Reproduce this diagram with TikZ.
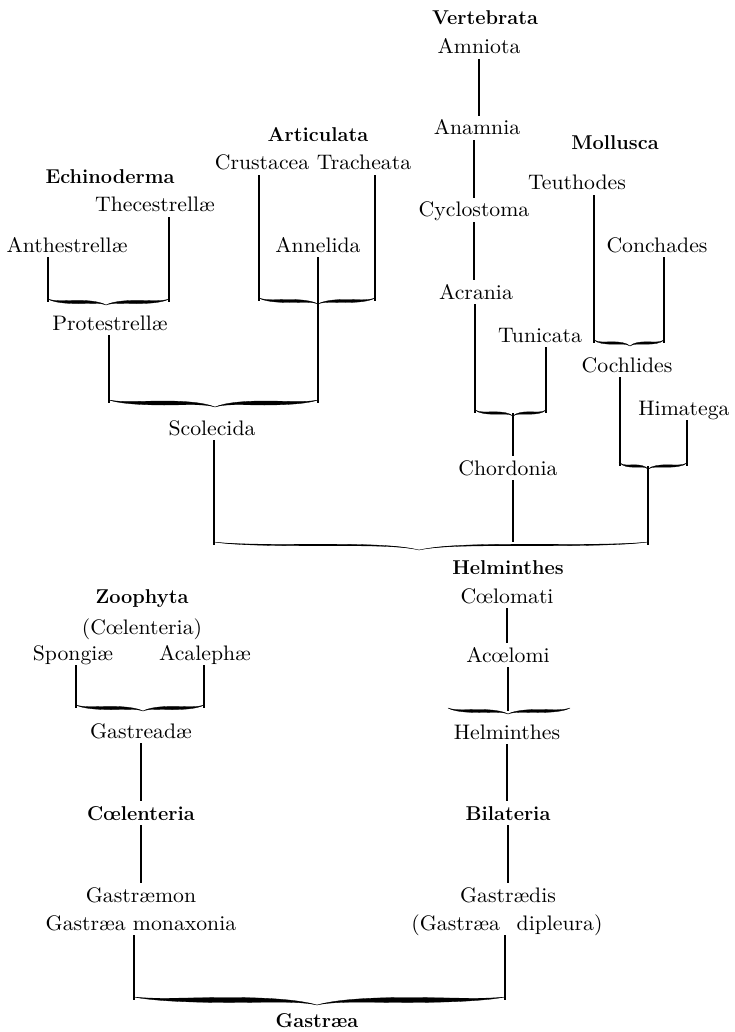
\documentclass[tikz,border=0pt]{standalone}
\usepackage{fontspec}
\newfontfamily\labfont{lmroman10}[Extension=.otf, UprightFont=*-regular, FakeStretch=1.035]
\usetikzlibrary{calc}
% half of a brace: #1 outer end, #2 cusp, #3 half thickness, #4 depth of cusp
\newcommand\halfbrace[4]{%
  \filldraw[line width=0.3pt] ($(#1)+(0,-3)$)
    .. controls ($(#1)!0.12!(#2)+(0,-0.2*#3)$) and ($(#1)!0.3!(#2)+(0,-#3)$) .. ($(#1)!0.52!(#2)+(0,-#3)$)
    .. controls ($(#1)!0.72!(#2)+(0,-#3)$) and ($(#1)!0.9!(#2)+(0,-0.2*#3)$) .. ($(#2)+(0,#4)$)
    .. controls ($(#1)!0.9!(#2)+(0,0.3*#3)$) and ($(#1)!0.72!(#2)+(0,#3)$) .. ($(#1)!0.52!(#2)+(0,#3)$)
    .. controls ($(#1)!0.3!(#2)+(0,#3)$) and ($(#1)!0.1!(#2)+(0,0.3*#3)$) .. cycle;}
\newcommand\mybrace[5]{\halfbrace{#1}{#2}{#4}{#5}\halfbrace{#3}{#2}{#4}{#5}}
\begin{document}
\begin{tikzpicture}[x=1pt,y=-1pt,
  lab/.style={font=\labfont\fontsize{21}{25}\selectfont, text height=14pt, text depth=0pt, inner xsep=0pt, inner ysep=5pt},
  hd/.style={lab, font=\bfseries\fontsize{20}{24}\selectfont},
  ln/.style={line width=1.1pt}]
\useasboundingbox (0,0) rectangle (735,1032);

% ---------- labels ----------
\node[hd]  (vert)  at (485,18)  {Vertebrata};
\node[lab] (amn)   at (479,47)  {Amniota};
\node[lab] (anam)  at (477,128) {Anamnia};
\node[lab] (cyc)   at (474,210) {Cyclostoma};
\node[lab] (acr)   at (476,292) {Acrania};
\node[lab] (tun)   at (540,335) {Tunicata};
\node[lab] (chord) at (508,468) {Chordonia};
\node[hd]  (moll)  at (615,143) {Mollusca};
\node[lab] (teu)   at (577,183) {Teuthodes};
\node[lab] (conch) at (657,245) {Conchades};
\node[lab] (coch)  at (627,365) {Cochlides};
\node[lab] (him)   at (684,408) {Himatega};
\node[hd]  (art)   at (318,135) {Articulata};
\node[lab] (crus)  at (262,163) {Crustacea};
\node[lab] (trach) at (364,163) {Tracheata};
\node[lab] (anne)  at (318,245) {Annelida};
\node[hd]  (echi)  at (110,177) {Echinoderma};
\node[lab] (thec)  at (155,205) {Thecestrellæ};
\node[lab] (anth)  at (67,245)  {Anthestrellæ};
\node[lab] (prot)  at (110,323) {Protestrellæ};
\node[lab] (scol)  at (212,428) {Scolecida};
\node[hd]  (helm)  at (508,567) {Helminthes};
\node[lab] (coel)  at (507,596) {Cœlomati};
\node[lab] (acoel) at (508,655) {Acœlomi};
\node[lab] (helmb) at (507,732) {Helminthes};
\node[hd]  (bil)   at (508,813) {Bilateria};
\node[lab] (gdis)  at (508,895) {Gastrædis};
\node[lab] (gdip)  at (507,923) {(Gastræa\hspace{0.8em}dipleura)};
\node[hd]  (zoo)   at (142,596) {Zoophyta};
\node[lab] (coelp) at (142,627) {(Cœlenteria)};
\node[lab] (spon)  at (73,653)  {Spongiæ};
\node[lab] (acal)  at (205,653) {Acalephæ};
\node[lab] (gad)   at (141,731) {Gastreadæ};
\node[hd]  (coelb) at (141,813) {Cœlenteria};
\node[lab] (gmon)  at (141,895) {Gastræmon};
\node[lab] (gmx)   at (141,923) {Gastræa monaxonia};
\node[hd]  (gas)   at (317,1020) {Gastræa};

% ---------- brace points ----------
\coordinate (aL) at (48,302);  \coordinate (aC) at (106,302); \coordinate (aR) at (169,302);
\coordinate (tL) at (259,301); \coordinate (tC) at (318,301); \coordinate (tR) at (375,301);
\coordinate (sL) at (109,403); \coordinate (sC) at (215,403); \coordinate (sR) at (318,403);
\coordinate (cL) at (475,413); \coordinate (cC) at (513,413); \coordinate (cR) at (546,413);
\coordinate (mL) at (594,343); \coordinate (mC) at (630,343); \coordinate (mR) at (664,343);
\coordinate (kL) at (620,466); \coordinate (kC) at (648,466); \coordinate (kR) at (687,466);
\coordinate (hL) at (214,545); \coordinate (hC) at (419,545); \coordinate (hR) at (648,545);
\coordinate (hx) at (513,542);
\coordinate (zL) at (76,708);  \coordinate (zC) at (143,708); \coordinate (zR) at (204,708);
\coordinate (eL) at (448,711); \coordinate (eC) at (508,711); \coordinate (eR) at (570,711);
\coordinate (gL) at (134,1000); \coordinate (gC) at (317,1000); \coordinate (gR) at (505,1000);

% ---------- braces ----------
\mybrace{aL}{aC}{aR}{1.6}{3}
\mybrace{tL}{tC}{tR}{1.5}{3}
\mybrace{sL}{sC}{sR}{2.0}{4}
\mybrace{cL}{cC}{cR}{1.2}{3}
\mybrace{mL}{mC}{mR}{1.2}{3}
\mybrace{kL}{kC}{kR}{1.2}{3}
\mybrace{hL}{hC}{hR}{0.8}{5}
\mybrace{zL}{zC}{zR}{1.6}{3}
\mybrace{eL}{eC}{eR}{1.5}{3}
\mybrace{gL}{gC}{gR}{2.5}{5}

% ---------- connectors ----------
\draw[ln] (amn.south) -- (amn.south |- anam.north);
\draw[ln] (cyc.north) -- (cyc.north |- anam.south);
\draw[ln] (cyc.south) -- (cyc.south |- acr.north);
\draw[ln] (acr.south -| cL) -- (cL);
\draw[ln] (tun.south -| cR) -- (cR);
\draw[ln] (cC) -- (cC |- chord.north);
\draw[ln] (chord.south -| hx) -- (hx);
\draw[ln] (teu.south -| mL) -- (mL);
\draw[ln] (conch.south -| mR) -- (mR);
\draw[ln] (coch.south -| kL) -- (kL);
\draw[ln] (him.south -| kR) -- (kR);
\draw[ln] (kC) -- (hR);
\draw[ln] (anth.south -| aL) -- (aL);
\draw[ln] (thec.south -| aR) -- (aR);
\draw[ln] (prot.south -| sL) -- (sL);
\draw[ln] (crus.south -| tL) -- (tL);
\draw[ln] (trach.south -| tR) -- (tR);
\draw[ln] (anne.south -| sR) -- (sR);
\draw[ln] (scol.south -| hL) -- (hL);
\draw[ln] (coel.south) -- (coel.south |- acoel.north);
\draw[ln] (acoel.south -| eC) -- (eC);
\draw[ln] (helmb.south) -- (helmb.south |- bil.north);
\draw[ln] (bil.south) -- (bil.south |- gdis.north);
\draw[ln] (gdip.south -| gR) -- (gR);
\draw[ln] (spon.south -| zL) -- (zL);
\draw[ln] (acal.south -| zR) -- (zR);
\draw[ln] (gad.south) -- (gad.south |- coelb.north);
\draw[ln] (coelb.south) -- (coelb.south |- gmon.north);
\draw[ln] (gmx.south -| gL) -- (gL);
\end{tikzpicture}
\end{document}
